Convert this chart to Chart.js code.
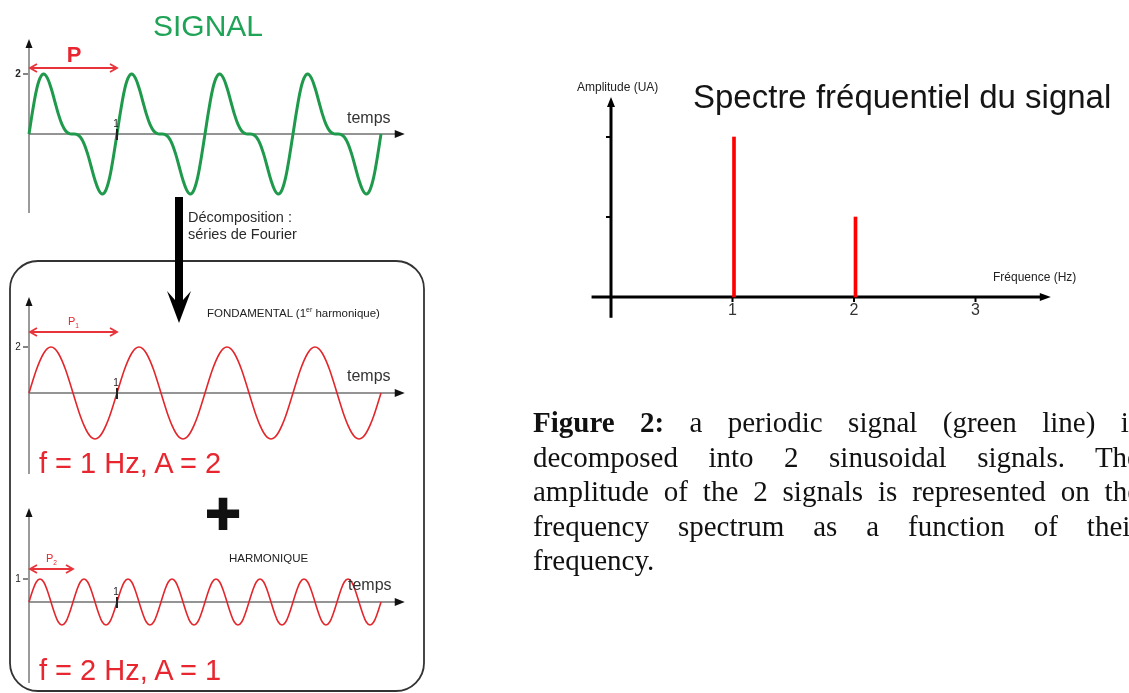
<!DOCTYPE html>
<html><head><meta charset="utf-8">
<script src="https://cdn.jsdelivr.net/npm/chart.js@4/dist/chart.umd.min.js"></script>
<style>
html,body{margin:0;padding:0;background:#fff;overflow:hidden;width:1129px;height:693px}
#wrap{position:relative;width:1129px;height:693px;overflow:hidden}
#c{position:absolute;left:0;top:0}
.t{position:absolute;white-space:nowrap;font-family:"Liberation Sans",Arial,sans-serif;line-height:1;transform:translateY(-50%);color:#222}
.c{transform:translate(-50%,-50%)}
.red{color:#e8262f}
.cap{position:absolute;left:533px;width:607px;height:34.5px;font-family:"Liberation Serif","Times New Roman",serif;font-size:29px;line-height:34.5px;color:#111;text-align:justify;text-align-last:justify}
.cap.last{text-align:left;text-align-last:left}
sub,sup{font-size:60%;line-height:0}
</style></head>
<body><div id="wrap">
<canvas id="c" width="1129" height="693"></canvas>

<div class="t c" style="left:208px;top:26px;font-size:30px;color:#1fa356">SIGNAL</div>
<div class="t c red" style="left:74px;top:55px;font-size:22px;font-weight:bold">P</div>
<div class="t" style="left:347px;top:118px;font-size:16px;color:#333">temps</div>

<div class="t" style="left:188px;top:217px;font-size:14.5px;color:#2a2a2a">Décomposition :</div>
<div class="t" style="left:188px;top:234px;font-size:14.5px;color:#2a2a2a">séries de Fourier</div>

<div class="t" style="left:207px;top:314px;font-size:11.5px">FONDAMENTAL (1<sup>er</sup> harmonique)</div>
<div class="t red" style="left:68px;top:321px;font-size:11px">P<sub>1</sub></div>
<div class="t" style="left:347px;top:376px;font-size:16px;color:#333">temps</div>
<div class="t red" style="left:39px;top:463px;font-size:29px">f = 1 Hz, A = 2</div>

<div class="t c" style="left:223px;top:514px;font-size:60px;font-weight:bold;color:#111;-webkit-text-stroke:2px #111">+</div>

<div class="t" style="left:229px;top:559px;font-size:11.5px">HARMONIQUE</div>
<div class="t red" style="left:46px;top:558px;font-size:11px">P<sub>2</sub></div>
<div class="t" style="left:348px;top:585px;font-size:16px;color:#333">temps</div>
<div class="t red" style="left:39px;top:670px;font-size:29px">f = 2 Hz, A = 1</div>

<div class="t" style="left:577px;top:87px;font-size:12px">Amplitude (UA)</div>
<div class="t" style="left:693px;top:96px;font-size:33px;color:#151515">Spectre fréquentiel du signal</div>
<div class="t" style="left:993px;top:277px;font-size:12px">Fréquence (Hz)</div>

<div class="cap" style="top:405px"><b>Figure 2:</b> a periodic signal (green line) is</div>
<div class="cap" style="top:439.5px">decomposed into 2 sinusoidal signals. The</div>
<div class="cap" style="top:474px">amplitude of the 2 signals is represented on the</div>
<div class="cap" style="top:508.5px">frequency spectrum as a function of their</div>
<div class="cap last" style="top:543px">frequency.</div>
</div>
<script>
// ---------- DATA ----------
const times = [
0,0.042,0.083,0.125,0.167,0.208,0.25,0.292,0.333,0.375,0.417,0.458,
0.5,0.542,0.583,0.625,0.667,0.708,0.75,0.792,0.833,0.875,0.917,0.958,
1,1.042,1.083,1.125,1.167,1.208,1.25,1.292,1.333,1.375,1.417,1.458,
1.5,1.542,1.583,1.625,1.667,1.708,1.75,1.792,1.833,1.875,1.917,1.958,
2,2.042,2.083,2.125,2.167,2.208,2.25,2.292,2.333,2.375,2.417,2.458,
2.5,2.542,2.583,2.625,2.667,2.708,2.75,2.792,2.833,2.875,2.917,2.958,
3,3.042,3.083,3.125,3.167,3.208,3.25,3.292,3.333,3.375,3.417,3.458,
3.5,3.542,3.583,3.625,3.667,3.708,3.75,3.792,3.833,3.875,3.917,3.958,
4];
const signalValues = [
0,0.78,1.44,1.86,2.0,1.87,1.54,1.10,0.67,0.32,0.10,0.01,0,-0.01,-0.10,-0.32,-0.67,-1.10,-1.54,-1.87,-2.0,-1.86,-1.44,-0.78,
0,0.78,1.44,1.86,2.0,1.87,1.54,1.10,0.67,0.32,0.10,0.01,0,-0.01,-0.10,-0.32,-0.67,-1.10,-1.54,-1.87,-2.0,-1.86,-1.44,-0.78,
0,0.78,1.44,1.86,2.0,1.87,1.54,1.10,0.67,0.32,0.10,0.01,0,-0.01,-0.10,-0.32,-0.67,-1.10,-1.54,-1.87,-2.0,-1.86,-1.44,-0.78,
0,0.78,1.44,1.86,2.0,1.87,1.54,1.10,0.67,0.32,0.10,0.01,0,-0.01,-0.10,-0.32,-0.67,-1.10,-1.54,-1.87,-2.0,-1.86,-1.44,-0.78,
0];
const fundamentalValues = [
0,0.52,1,1.41,1.73,1.93,2,1.93,1.73,1.41,1,0.52,0,-0.52,-1,-1.41,-1.73,-1.93,-2,-1.93,-1.73,-1.41,-1,-0.52,
0,0.52,1,1.41,1.73,1.93,2,1.93,1.73,1.41,1,0.52,0,-0.52,-1,-1.41,-1.73,-1.93,-2,-1.93,-1.73,-1.41,-1,-0.52,
0,0.52,1,1.41,1.73,1.93,2,1.93,1.73,1.41,1,0.52,0,-0.52,-1,-1.41,-1.73,-1.93,-2,-1.93,-1.73,-1.41,-1,-0.52,
0,0.52,1,1.41,1.73,1.93,2,1.93,1.73,1.41,1,0.52,0,-0.52,-1,-1.41,-1.73,-1.93,-2,-1.93,-1.73,-1.41,-1,-0.52,
0];
const harmonicValues = [
0,0.5,0.87,1,0.87,0.5,0,-0.5,-0.87,-1,-0.87,-0.5,0,0.5,0.87,1,0.87,0.5,0,-0.5,-0.87,-1,-0.87,-0.5,
0,0.5,0.87,1,0.87,0.5,0,-0.5,-0.87,-1,-0.87,-0.5,0,0.5,0.87,1,0.87,0.5,0,-0.5,-0.87,-1,-0.87,-0.5,
0,0.5,0.87,1,0.87,0.5,0,-0.5,-0.87,-1,-0.87,-0.5,0,0.5,0.87,1,0.87,0.5,0,-0.5,-0.87,-1,-0.87,-0.5,
0,0.5,0.87,1,0.87,0.5,0,-0.5,-0.87,-1,-0.87,-0.5,0,0.5,0.87,1,0.87,0.5,0,-0.5,-0.87,-1,-0.87,-0.5,
0];
const spectrumFreqs = [1, 2];
const spectrumAmps = [2, 1];
const spectrumTicksX = [1, 2, 3];
const spectrumTicksY = [1, 2];
const signalTickY = 2, fundamentalTickY = 2, harmonicTickY = 1, timeTick = 1;

// ---------- LAYOUT (pixels) ----------
const W = 1129, H = 693;
function xlin(px0, ppu){ return {type:'linear', display:false, offset:false, grace:0, min:-px0/ppu, max:(W-px0)/ppu}; }
function ylin(py0, ppu){ return {type:'linear', display:false, offset:false, grace:0, min:-(H-py0)/ppu, max:py0/ppu}; }

const pts = (vals) => vals.map((v,i)=>({x:times[i], y:v}));

const panels = [
  {y:'yg', top:39, bottom:213, tick:signalTickY, tickBold:true},
  {y:'yf', top:297, bottom:474, tick:fundamentalTickY, tickBold:false},
  {y:'yh', top:508, bottom:683, tick:harmonicTickY, tickBold:false}
];

function triUp(ctx,x,y,len,half){ctx.beginPath();ctx.moveTo(x,y);ctx.lineTo(x-half,y+len);ctx.lineTo(x+half,y+len);ctx.closePath();ctx.fill();}
function triRight(ctx,x,y,len,half){ctx.beginPath();ctx.moveTo(x,y);ctx.lineTo(x-len,y-half);ctx.lineTo(x-len,y+half);ctx.closePath();ctx.fill();}
function dblArrow(ctx,x1,x2,y){
  ctx.beginPath();ctx.moveTo(x1,y);ctx.lineTo(x2,y);
  ctx.moveTo(x1+7,y-4);ctx.lineTo(x1,y);ctx.lineTo(x1+7,y+4);
  ctx.moveTo(x2-7,y-4);ctx.lineTo(x2,y);ctx.lineTo(x2-7,y+4);
  ctx.stroke();
}

const decor = {
  id:'decor',
  beforeDatasetsDraw(chart){
    const ctx = chart.ctx, s = chart.scales;
    ctx.save();
    // rounded frame
    ctx.strokeStyle='#333'; ctx.lineWidth=1.8;
    ctx.beginPath(); ctx.roundRect(10,261,414,430,28); ctx.stroke();
    // left panel axes
    const x0 = s.xt.getPixelForValue(0), xe = s.xt.getPixelForValue(4.27);
    panels.forEach(p=>{
      const y0 = s[p.y].getPixelForValue(0);
      ctx.strokeStyle='#707070'; ctx.lineWidth=1.4;
      ctx.beginPath(); ctx.moveTo(x0,p.bottom); ctx.lineTo(x0,p.top+6); ctx.stroke();
      ctx.beginPath(); ctx.moveTo(x0,y0); ctx.lineTo(xe-6,y0); ctx.stroke();
      ctx.fillStyle='#111';
      triUp(ctx,x0,p.top,9,3.5);
      triRight(ctx,xe,y0,10,4);
      const yt = s[p.y].getPixelForValue(p.tick);
      ctx.strokeStyle='#333'; ctx.lineWidth=1.2;
      ctx.beginPath(); ctx.moveTo(x0-6,yt); ctx.lineTo(x0-1,yt); ctx.stroke();
      ctx.font=(p.tickBold?'bold ':'')+'10px "Liberation Sans", Arial, sans-serif';
      ctx.fillStyle='#222'; ctx.textAlign='center'; ctx.textBaseline='middle';
      ctx.fillText(String(p.tick), x0-11, yt);
    });
    // period arrows
    ctx.strokeStyle='#e8333b'; ctx.lineWidth=1.8;
    dblArrow(ctx, s.xt.getPixelForValue(0)+1, s.xt.getPixelForValue(1), 68);
    dblArrow(ctx, s.xt.getPixelForValue(0)+1, s.xt.getPixelForValue(1), 332);
    dblArrow(ctx, s.xt.getPixelForValue(0)+1, s.xt.getPixelForValue(0.5), 569);
    // big arrow
    ctx.fillStyle='#000';
    ctx.beginPath();
    ctx.moveTo(175,197); ctx.lineTo(175,300); ctx.lineTo(167,291); ctx.lineTo(179,323);
    ctx.lineTo(191,291); ctx.lineTo(183,300); ctx.lineTo(183,197); ctx.closePath(); ctx.fill();
    // spectrum axes
    const sx0 = s.xs.getPixelForValue(0), sy0 = s.ys.getPixelForValue(0);
    const sxe = s.xs.getPixelForValue(3.62), sxs = s.xs.getPixelForValue(-0.16);
    const syt = s.ys.getPixelForValue(2.5), syb = s.ys.getPixelForValue(-0.26);
    ctx.strokeStyle='#000'; ctx.lineWidth=3;
    ctx.beginPath(); ctx.moveTo(sx0,syb); ctx.lineTo(sx0,syt+6); ctx.stroke();
    ctx.beginPath(); ctx.moveTo(sxs,sy0); ctx.lineTo(sxe-6,sy0); ctx.stroke();
    ctx.fillStyle='#000';
    triUp(ctx,sx0,syt,10,4);
    triRight(ctx,sxe,sy0,11,4);
    ctx.lineWidth=2;
    spectrumTicksY.forEach(v=>{const y=s.ys.getPixelForValue(v);ctx.beginPath();ctx.moveTo(sx0-5,y);ctx.lineTo(sx0,y);ctx.stroke();});
    spectrumTicksX.forEach(v=>{const x=s.xs.getPixelForValue(v);ctx.beginPath();ctx.moveTo(x,sy0);ctx.lineTo(x,sy0+5);ctx.stroke();});
    ctx.font='16px "Liberation Sans", Arial, sans-serif'; ctx.fillStyle='#333';
    ctx.textAlign='center'; ctx.textBaseline='middle';
    spectrumTicksX.forEach(v=>ctx.fillText(String(v), s.xs.getPixelForValue(v), sy0+14));
    ctx.restore();
  },
  afterDatasetsDraw(chart){
    const ctx = chart.ctx, s = chart.scales;
    ctx.save();
    const x1 = s.xt.getPixelForValue(timeTick);
    panels.forEach(p=>{
      const y0 = s[p.y].getPixelForValue(0);
      ctx.strokeStyle='#222'; ctx.lineWidth=2;
      ctx.beginPath(); ctx.moveTo(x1,y0-5); ctx.lineTo(x1,y0+6); ctx.stroke();
      ctx.font='10px "Liberation Sans", Arial, sans-serif'; ctx.fillStyle='#222';
      ctx.textAlign='center'; ctx.textBaseline='middle';
      ctx.fillText(String(timeTick), x1-1, y0-10);
    });
    ctx.restore();
  }
};

new Chart(document.getElementById('c'), {
  type:'line',
  data:{datasets:[
    {label:'Signal', data:pts(signalValues), xAxisID:'xt', yAxisID:'yg', borderColor:'#1f9a4c', borderWidth:3, pointRadius:0, tension:0.35, fill:false},
    {label:'Fondamental', data:pts(fundamentalValues), xAxisID:'xt', yAxisID:'yf', borderColor:'#e3262b', borderWidth:1.6, pointRadius:0, tension:0.35, fill:false},
    {label:'Harmonique', data:pts(harmonicValues), xAxisID:'xt', yAxisID:'yh', borderColor:'#e3262b', borderWidth:1.6, pointRadius:0, tension:0.35, fill:false},
    {type:'bar', label:'Spectre', data:spectrumFreqs.map((f,i)=>({x:f,y:spectrumAmps[i]})), xAxisID:'xs', yAxisID:'ys', backgroundColor:'#ff0000', barThickness:3, borderWidth:0}
  ]},
  options:{
    responsive:false, animation:false, maintainAspectRatio:false,
    layout:{padding:0, autoPadding:false},
    plugins:{legend:{display:false}, tooltip:{enabled:false}, title:{display:false}},
    events:[],
    scales:{
      xt: xlin(29, 88),
      xs: xlin(611, 121.5),
      yg: ylin(134, 30),
      yf: ylin(393, 23),
      yh: ylin(602, 23),
      ys: ylin(297, 80)
    }
  },
  plugins:[decor]
});
</script>
</body></html>
